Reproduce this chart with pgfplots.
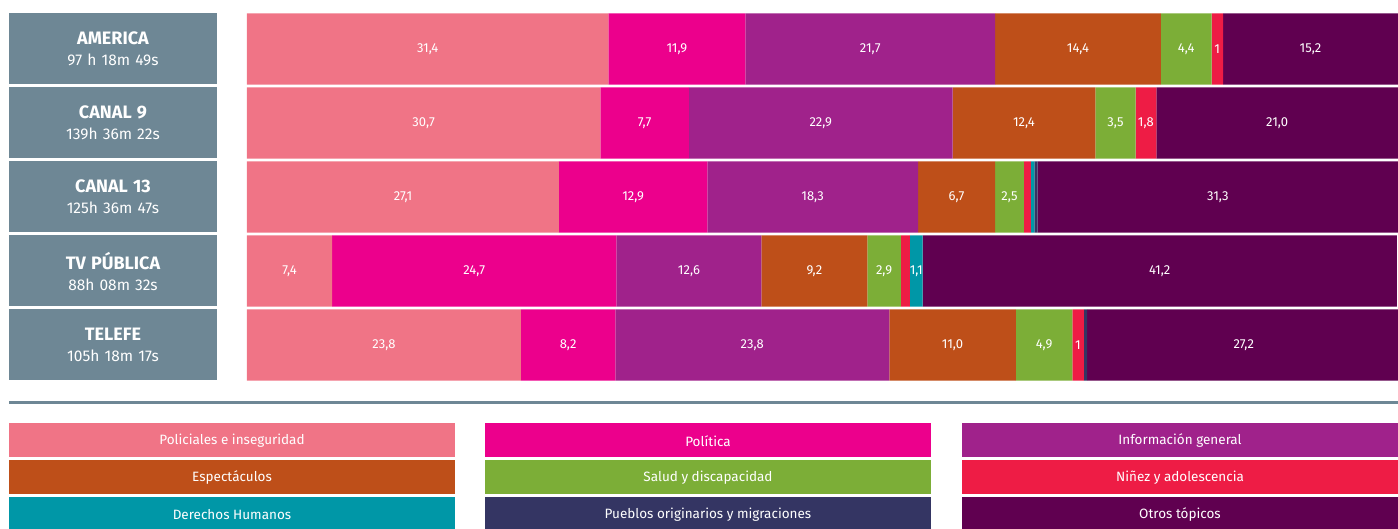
\documentclass[border=0pt]{standalone}
\usepackage{pgfplots}
\pgfplotsset{compat=1.18}
\usepackage{pgfplotstable}
\usepackage{fontspec}
\setmainfont{Fira Sans}
\definecolor{cPol}{HTML}{F07486}
\definecolor{cPolit}{HTML}{EC008C}
\definecolor{cInfo}{HTML}{A0228B}
\definecolor{cEsp}{HTML}{BE4F19}
\definecolor{cSal}{HTML}{7CAE37}
\definecolor{cNin}{HTML}{EE1C45}
\definecolor{cDDHH}{HTML}{0097A7}
\definecolor{cPue}{HTML}{343563}
\definecolor{cOtr}{HTML}{600050}
\definecolor{boxgray}{HTML}{6E8795}

% rows: 4 AMERICA, 3 CANAL 9, 2 CANAL 13, 1 TV PUBLICA, 0 TELEFE
\pgfplotstableread{
y v lbl
4 31.4 31,4
3 30.7 30,7
2 27.1 27,1
1 7.4 7,4
0 23.8 23,8
}\tPol
\pgfplotstableread{
y v lbl
4 11.9 11,9
3 7.7 7,7
2 12.9 12,9
1 24.7 24,7
0 8.2 8,2
}\tPolit
\pgfplotstableread{
y v lbl
4 21.7 21,7
3 22.9 22,9
2 18.3 18,3
1 12.6 12,6
0 23.8 23,8
}\tInfo
\pgfplotstableread{
y v lbl
4 14.4 14,4
3 12.4 12,4
2 6.7 6,7
1 9.2 9,2
0 11.0 11,0
}\tEsp
\pgfplotstableread{
y v lbl
4 4.4 4,4
3 3.5 3,5
2 2.5 2,5
1 2.9 2,9
0 4.9 4,9
}\tSal
\pgfplotstableread{
y v lbl
4 1.0 1
3 1.8 1,8
2 0.6 {}
1 0.8 {}
0 1.0 1
}\tNin
\pgfplotstableread{
y v lbl
4 0 {}
3 0 {}
2 0.3 {}
1 1.1 1,1
0 0 {}
}\tDDHH
\pgfplotstableread{
y v lbl
4 0 {}
3 0 {}
2 0.3 {}
1 0 {}
0 0.3 {}
}\tPue
\pgfplotstableread{
y v lbl
4 15.2 15,2
3 21.0 21,0
2 31.3 31,3
1 41.2 41,2
0 27.2 27,2
}\tOtr

\begin{document}
\begin{tikzpicture}
\useasboundingbox (0pt,0pt) rectangle (1398pt,529pt);
\begin{axis}[
  at={(247pt,147pt)}, anchor=south west,
  scale only axis, width=1151pt, height=370pt,
  xbar stacked, bar width=0.96,
  xmin=0, xmax=100, ymin=-0.5, ymax=4.5,
  enlargelimits=false, clip=false,
  axis line style={draw=none},
  xtick=\empty,
  ytick={0,1,2,3,4},
  yticklabels={
    {{\fontsize{18pt}{22pt}\selectfont\bfseries TELEFE}\\105h 18m 17s},
    {{\fontsize{18pt}{22pt}\selectfont\bfseries TV PÚBLICA}\\88h 08m 32s},
    {{\fontsize{18pt}{22pt}\selectfont\bfseries CANAL 13}\\125h 36m 47s},
    {{\fontsize{18pt}{22pt}\selectfont\bfseries CANAL 9}\\139h 36m 22s},
    {{\fontsize{18pt}{22pt}\selectfont\bfseries AMERICA}\\97 h 18m 49s}},
  major tick length=0pt, tick style={draw=none},
  yticklabel style={anchor=east, inner sep=0pt, outer sep=0pt, xshift=-30pt,
    fill=boxgray, text=white, align=center, text width=208pt,
    minimum height=71pt, font=\fontsize{15.5pt}{21pt}\selectfont},
  point meta=explicit symbolic,
  nodes near coords,
  nodes near coords style={anchor=center, text=white, yshift=-0.5pt,
    font=\fontsize{13pt}{15pt}\selectfont},
]
\addplot[fill=cPol, draw=none] table[x=v, y=y, meta=lbl] {\tPol};
\addplot[fill=cPolit, draw=none] table[x=v, y=y, meta=lbl] {\tPolit};
\addplot[fill=cInfo, draw=none] table[x=v, y=y, meta=lbl] {\tInfo};
\addplot[fill=cEsp, draw=none] table[x=v, y=y, meta=lbl] {\tEsp};
\addplot[fill=cSal, draw=none] table[x=v, y=y, meta=lbl] {\tSal};
\addplot[fill=cNin, draw=none] table[x=v, y=y, meta=lbl] {\tNin};
\addplot[fill=cDDHH, draw=none] table[x=v, y=y, meta=lbl] {\tDDHH};
\addplot[fill=cPue, draw=none] table[x=v, y=y, meta=lbl] {\tPue};
\addplot[fill=cOtr, draw=none] table[x=v, y=y, meta=lbl] {\tOtr};
\end{axis}

% separator
\fill[boxgray] (9pt,124.5pt) rectangle (1398pt,127.5pt);

% legend
\tikzset{leg/.style={text=white, font=\fontsize{13.5pt}{16pt}\selectfont}}
\def\legbox#1#2#3#4#5#6{%
  \fill[#5] (#1pt,#3pt) rectangle (#2pt,#4pt);
  \node[leg] at ({(#1+#2)/2*1pt},{(#3+#4)/2*1pt-1pt}) {#6};}
\legbox{9}{455}{72}{106}{cPol}{Policiales e inseguridad}
\legbox{485}{931}{72}{106}{cPolit}{Política}
\legbox{962}{1398}{72}{106}{cInfo}{Información general}
\legbox{9}{455}{35}{69}{cEsp}{Espectáculos}
\legbox{485}{931}{35}{69}{cSal}{Salud y discapacidad}
\legbox{962}{1398}{35}{69}{cNin}{Niñez y adolescencia}
\legbox{9}{455}{-2}{32}{cDDHH}{Derechos Humanos}
\legbox{485}{931}{-2}{32}{cPue}{Pueblos originarios y migraciones}
\legbox{962}{1398}{-2}{32}{cOtr}{Otros tópicos}
\end{tikzpicture}
\end{document}
